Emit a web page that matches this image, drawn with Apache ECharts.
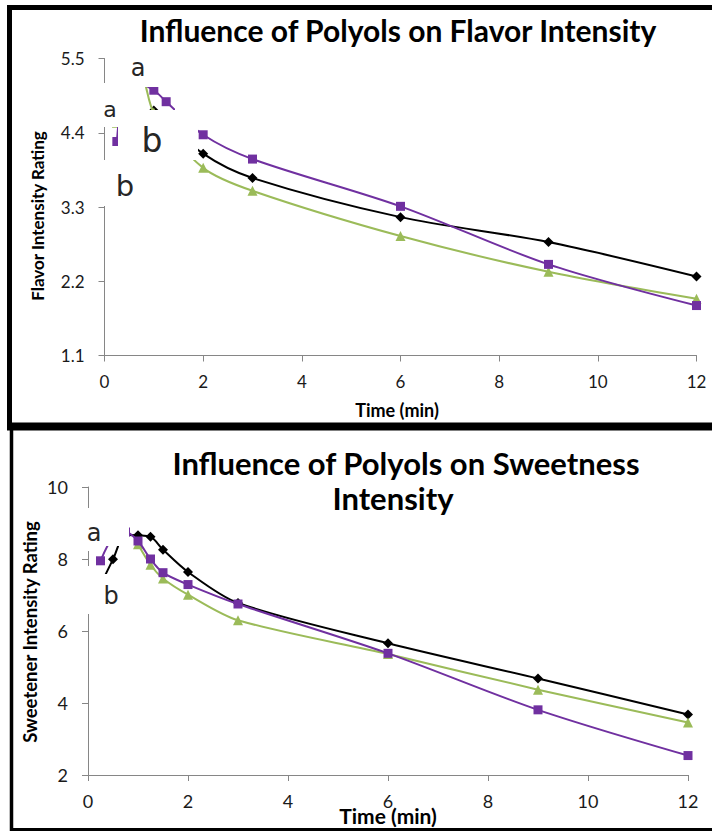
<!DOCTYPE html>
<html><head><meta charset="utf-8">
<script src="https://cdn.jsdelivr.net/npm/echarts@6/dist/echarts.min.js"></script>
<style>html,body{margin:0;padding:0;background:#fff}#c{width:712px;height:831px}</style>
</head><body><div id="c"></div>
<script>
// ---- data (time in min, rating) ----
const timeTicks = [0, 2, 4, 6, 8, 10, 12];
const flavorTicks = [1.1, 2.2, 3.3, 4.4, 5.5];
const sweetTicks = [2, 4, 6, 8, 10];
const flavorBlack  = [[1,4.73],[2,4.09],[3,3.73],[6,3.15],[9,2.78],[12,2.27]];
const flavorPurple = [[0.25,4.27],[0.5,5.2],[1,5.03],[1.25,4.86],[2,4.37],[3,4.01],[6,3.31],[9,2.45],[12,1.84]];
const flavorGreen  = [[0.25,4.55],[0.75,5.22],[1,4.70],[2,3.88],[3,3.54],[6,2.87],[9,2.34],[12,1.94]];
const sweetBlack  = [[0.25,7.28],[0.5,7.99],[0.75,8.67],[1,8.66],[1.25,8.62],[1.5,8.26],[2,7.64],[3,6.78],[6,5.66],[9,4.68],[12,3.68]];
const sweetPurple = [[0.25,7.95],[0.5,8.6],[0.75,8.75],[1,8.5],[1.25,8.0],[1.5,7.62],[2,7.29],[3,6.75],[6,5.38],[9,3.81],[12,2.54]];
const sweetGreen  = [[1,8.41],[1.25,7.84],[1.5,7.46],[2,7.01],[3,6.3],[6,5.36],[9,4.37],[12,3.46]];
const titles = ['Influence of Polyols on Flavor Intensity', 'Influence of Polyols on Sweetness', 'Intensity'];
const xTitle = 'Time (min)';
const yTitles = ['Flavor Intensity Rating', 'Sweetener Intensity Rating'];

const AX = '#868686', LAB = '#1a1a1a';
const FONT = 'Lato, "Open Sans", sans-serif';
function xAxis(gi, fs, margin) {
  return { type: 'value', gridIndex: gi, min: timeTicks[0], max: timeTicks[timeTicks.length-1],
    interval: timeTicks[1]-timeTicks[0],
    axisLine: { show: true, lineStyle: { color: AX, width: 1 } },
    axisTick: { show: true, length: 6, lineStyle: { color: AX } },
    axisLabel: { color: LAB, fontSize: fs, fontFamily: FONT, margin: margin },
    splitLine: { show: false } };
}
function yAxis(gi, ticks, fs, margin, dec) {
  return { type: 'value', gridIndex: gi, min: ticks[0], max: ticks[ticks.length-1],
    interval: ticks[1]-ticks[0],
    axisLine: { show: true, lineStyle: { color: AX, width: 1 } },
    axisTick: { show: true, length: 6, lineStyle: { color: AX } },
    axisLabel: { color: LAB, fontSize: fs, fontFamily: FONT, margin: margin,
      formatter: v => v.toFixed(dec) },
    splitLine: { show: false } };
}
function ser(data, gi, color, symbol, size, z) {
  return { type: 'line', xAxisIndex: gi, yAxisIndex: gi, data: data, smooth: 0.3,
    symbol: symbol, symbolSize: size, showSymbol: true, clip: false, z: z,
    lineStyle: { color: color, width: 2 }, itemStyle: { color: color, borderWidth: 0 },
    emphasis: { disabled: true }, animation: false };
}
const BLACK = '#000000', PURPLE = '#7030A0', GREEN = '#9BBB59';

function rect(x, y, w, h) {
  return { type: 'rect', z: 100, silent: true, shape: { x: x, y: y, width: w, height: h },
    style: { fill: '#ffffff' } };
}
function txt(s, x, y, font, rot, col) {
  return { type: 'text', z: 110, silent: true, x: x, y: y, rotation: rot || 0,
    style: { text: s, font: font, fill: col || '#000', align: 'center', verticalAlign: 'middle' } };
}
function line(x1, y1, x2, y2, w) {
  return { type: 'line', z: 120, silent: true, shape: { x1: x1, y1: y1, x2: x2, y2: y2 },
    style: { stroke: '#000', lineWidth: w } };
}
const LET = '"DejaVu Sans", sans-serif';
const LCOL = '#262626';
const graphics = [
  // white paste-over boxes (chart 1)
  rect(106, 52, 90, 35), rect(106, 87, 39, 40), rect(175, 87, 23, 40), rect(145, 110, 30, 17),
  rect(106, 127, 6, 78), rect(118, 127, 80, 33), rect(118, 160, 75, 45), rect(112, 148, 6, 57),
  rect(96, 83, 10, 44), rect(96, 160, 10, 46),
  // white paste-over boxes (chart 2)
  rect(90, 485, 39, 61), rect(90, 546, 5, 28), rect(119, 546, 10, 28), rect(90, 574, 39, 41),
  rect(80, 508, 11, 43), rect(80, 566, 11, 48),
  // letters
  txt('a', 138, 68, '24px ' + LET, 0, LCOL), txt('a', 110, 109, '22px ' + LET, 0, LCOL),
  txt('b', 152, 140, '33px ' + LET, 0, LCOL), txt('b', 125, 186, '29px ' + LET, 0, LCOL),
  txt('a', 94, 533, '24px ' + LET, 0, LCOL), txt('b', 111, 596, '24px ' + LET, 0, LCOL),
  // titles
  txt(titles[0], 398, 30, 'bold 30px ' + FONT),
  txt(titles[1], 406, 463, 'bold 31px ' + FONT),
  txt(titles[2], 393, 498, 'bold 31px ' + FONT),
  txt(xTitle, 397, 410, 'bold 18px ' + FONT),
  txt(xTitle, 388, 815, 'bold 21px ' + FONT),
  txt(yTitles[0], 37, 216, 'bold 17px ' + FONT, Math.PI / 2),
  txt(yTitles[1], 30, 632, 'bold 18.5px ' + FONT, Math.PI / 2),
  // frames
  line(7, 7.5, 712, 7.5, 5), line(9.5, 5, 9.5, 428, 5), line(7, 426.5, 712, 426.5, 8),
  line(11.5, 428, 11.5, 831, 3.5), line(10, 829.5, 712, 829.5, 3)
];

const chart = echarts.init(document.getElementById('c'), null, { renderer: 'svg' });
chart.setOption({
  animation: false,
  backgroundColor: '#ffffff',
  grid: [
    { left: 104.5, top: 58.5, width: 592, height: 297 },
    { left: 88, top: 487, width: 600, height: 288 }
  ],
  xAxis: [xAxis(0, 17, 17), xAxis(1, 18, 17)],
  yAxis: [yAxis(0, flavorTicks, 17, 20, 1), yAxis(1, sweetTicks, 18, 20, 0)],
  series: [
    ser(flavorBlack, 0, BLACK, 'diamond', 10, 2),
    ser(flavorGreen, 0, GREEN, 'triangle', 10, 3),
    ser(flavorPurple, 0, PURPLE, 'rect', 9, 4),
    ser(sweetBlack, 1, BLACK, 'diamond', 10, 2),
    ser(sweetGreen, 1, GREEN, 'triangle', 10, 3),
    ser(sweetPurple, 1, PURPLE, 'rect', 9, 4)
  ],
  graphic: graphics
});
</script></body></html>
